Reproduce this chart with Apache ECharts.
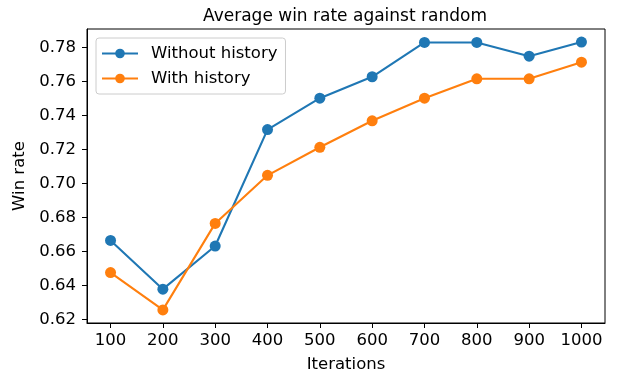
<!DOCTYPE html>
<html>
<head>
<meta charset="utf-8">
<script src="https://cdn.jsdelivr.net/npm/echarts@6/dist/echarts.min.js"></script>
<style>
  html, body { margin: 0; padding: 0; background: #fff; }
  #chart { width: 622px; height: 371px; }
</style>
</head>
<body>
<div id="chart"></div>
<script>
/** data */
const iterations = [100, 200, 300, 400, 500, 600, 700, 800, 900, 1000];
const withoutHistory = [0.6666, 0.6379, 0.6633, 0.7318, 0.7503, 0.7629, 0.7831, 0.7831, 0.775, 0.7833];
const withHistory = [0.6477, 0.6257, 0.6766, 0.7049, 0.7214, 0.737, 0.7503, 0.7617, 0.7617, 0.7715];
const yTicks = [0.62, 0.64, 0.66, 0.68, 0.70, 0.72, 0.74, 0.76, 0.78];

const font = "DejaVu Sans";
const size = 16.5;
const pair = (ys) => iterations.map((x, i) => [x, ys[i]]);

const line = (name, color, ys) => ({
  name,
  type: "line",
  data: pair(ys),
  symbol: "circle",
  symbolSize: 11,
  color,
  lineStyle: { width: 2.1, color },
  itemStyle: { color },
  emphasis: { disabled: true },
  animation: false,
});

const chart = echarts.init(document.getElementById("chart"), null, { renderer: "canvas" });

chart.setOption({
  animation: false,
  textStyle: { fontFamily: font },
  title: {
    text: "Average win rate against random",
    left: 340,
    top: 3,
    textAlign: "center",
    textStyle: { fontFamily: font, fontSize: 17, fontWeight: "normal", color: "#000" },
  },
  grid: {
    left: 87,
    right: 17,
    top: 29,
    bottom: 48,
    outerBoundsMode: "none",
    containLabel: false,
    show: true,
    borderColor: "#000",
    borderWidth: 1,
  },
  legend: {
    left: 96,
    top: 38,
    orient: "vertical",
    itemWidth: 36,
    itemHeight: 12,
    itemGap: 6,
    padding: [6, 8, 6, 5],
    borderColor: "#ccc",
    borderWidth: 1,
    borderRadius: 3,
    backgroundColor: "rgba(255,255,255,0.8)",
    textStyle: {
      fontFamily: font,
      fontSize: size,
      color: "#000",
      lineHeight: 19,
      padding: [0, 0, 0, 8],
    },
    data: ["Without history", "With history"],
  },
  xAxis: {
    type: "value",
    min: 55,
    max: 1045,
    name: "Iterations",
    nameLocation: "middle",
    nameGap: 33,
    nameTextStyle: { fontFamily: font, fontSize: size, color: "#000" },
    axisLine: { show: true, lineStyle: { color: "#000", width: 1 } },
    axisTick: { show: true, length: 5, lineStyle: { color: "#000" }, customValues: iterations },
    axisLabel: {
      fontFamily: font,
      color: "#000",
      fontSize: size,
      margin: 9,
      customValues: iterations,
      formatter: (v) => String(v),
    },
    splitLine: { show: false },
  },
  yAxis: {
    type: "value",
    min: 0.618,
    max: 0.791,
    name: "Win rate",
    nameLocation: "middle",
    nameGap: 56,
    nameRotate: 90,
    nameTextStyle: { fontFamily: font, fontSize: size, color: "#000" },
    axisLine: { show: true, lineStyle: { color: "#000", width: 1 } },
    axisTick: { show: true, length: 5, lineStyle: { color: "#000" }, customValues: yTicks },
    axisLabel: {
      fontFamily: font,
      color: "#000",
      fontSize: size,
      margin: 11,
      customValues: yTicks,
      formatter: (v) => v.toFixed(2),
    },
    splitLine: { show: false },
  },
  series: [
    line("Without history", "#1f77b4", withoutHistory),
    line("With history", "#ff7f0e", withHistory),
  ],
});
</script>
</body>
</html>
